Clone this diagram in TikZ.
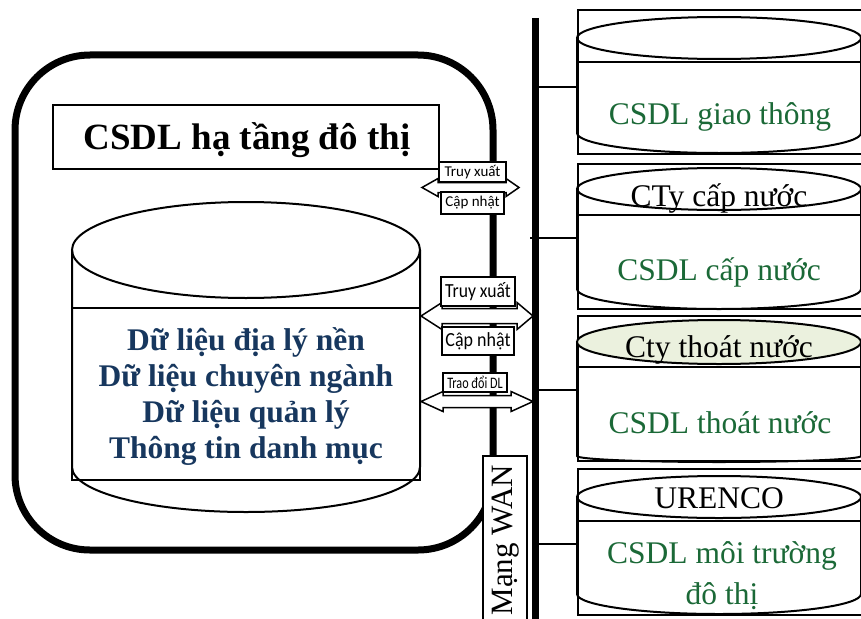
\documentclass[tikz,border=0pt]{standalone}
\usepackage{fontspec}
\usepackage{graphicx}
\setmainfont{Liberation Serif}
\newfontfamily\labelfont{Carlito}
\definecolor{navy}{RGB}{23,55,94}
\definecolor{dbgreen}{RGB}{27,105,55}
\definecolor{paleolive}{RGB}{235,241,222}
% condensed label text
\newcommand\squeeze[2]{\scalebox{#1}[1]{#2}}
% double block arrow: left tip, left base, right base, right tip, centre y, shaft half, head half
\newcommand\dblarrow[7]{%
  \draw[blockarrow] (#1,#5) -- (#2,#5-#7) -- (#2,#5-#6) -- (#3,#5-#6) -- (#3,#5-#7)
    -- (#4,#5) -- (#3,#5+#7) -- (#3,#5+#6) -- (#2,#5+#6) -- (#2,#5+#7) -- cycle;}
\begin{document}
\begin{tikzpicture}[x=1pt,y=-1pt,
  outerframe/.style={line width=7pt, rounded corners=75pt},
  dbline/.style={line width=2pt},
  frameline/.style={draw, line width=2pt, inner sep=0pt},
  tap/.style={line width=2.6pt},
  bus/.style={line width=7pt},
  blockarrow/.style={draw, line width=1.5pt, fill=white, line join=miter},
  tag/.style={draw, line width=1.5pt, fill=white, inner sep=0pt, text=black},
  smalltag/.style={tag, font=\labelfont\fontsize{15}{15}\selectfont},
  bigtag/.style={tag, font=\labelfont\fontsize{20}{20}\selectfont},
  dbtitle/.style={font=\fontsize{31.5}{36}\selectfont, text=black, inner sep=0pt},
  dbname/.style={font=\fontsize{31.5}{41}\selectfont, text=dbgreen, inner sep=0pt, align=center}]
\clip (0,0) rectangle (861,618);
\fill[white] (0,0) rectangle (861,618);

% city infrastructure block
\draw[outerframe] (15,55) rectangle (493,550);
\node[draw, line width=2pt, minimum width=386pt, minimum height=64pt, inner sep=0pt] (title) at (246,137) {};
\node[font=\fontsize{37}{40}\selectfont\bfseries, inner sep=0pt] (titletext) at (247,140) {CSDL hạ tầng đô thị};

% central database cylinder
\draw[dbline] (72,250) -- (72,467) arc[start angle=180, end angle=0, x radius=174, y radius=45] -- (420,250);
\draw[dbline] (246,250) ellipse[x radius=174, y radius=48];
\draw[dbline] (72,308) rectangle (420,480);
\node[font=\fontsize{31.5}{36}\selectfont\bfseries, text=navy, align=center, inner sep=0pt] (content) at (246,397)
  {Dữ liệu địa lý nền\\Dữ liệu chuyên ngành\\Dữ liệu quản lý\\Thông tin danh mục};

% WAN backbone
\coordinate (bustop) at (535,18);
\coordinate (busbot) at (535,625);
\draw[bus] (bustop) -- (busbot);

% partner databases
\node[frameline, anchor=north west, minimum width=292pt, minimum height=144pt] (f1) at (577,9) {};
\node[frameline, anchor=north west, minimum width=292pt, minimum height=145pt] (f2) at (577,163) {};
\node[frameline, anchor=north west, minimum width=292pt, minimum height=145pt] (f3) at (577,315) {};
\node[frameline, anchor=north west, minimum width=292pt, minimum height=146pt] (f4) at (577,468) {};

\coordinate (t1) at (535,87);
\coordinate (t2) at (530,238);
\coordinate (t3) at (535,390);
\coordinate (t4) at (535,544);
\draw[tap] (t1) -- (t1 -| f1.west);
\draw[tap] (t2) -- (t2 -| f2.west);
\draw[tap] (t3) -- (t3 -| f3.west);
\draw[tap] (t4) -- (t4 -| f4.west);

% transport
\draw[dbline] (577,38) -- (577,133) arc[start angle=180, end angle=0, x radius=142, y radius=20] -- (861,38);
\draw[dbline] (719,38) ellipse[x radius=142, y radius=21];
\draw[dbline] (577,62) -- (870,62);
\node[dbname] (n1) at (720,117) {CSDL giao thông};

% water supply
\draw[dbline] (577,189) -- (577,289) arc[start angle=180, end angle=0, x radius=142, y radius=20] -- (861,189);
\draw[dbline] (719,189) ellipse[x radius=142, y radius=21];
\draw[dbline] (577,215) -- (870,215);
\node[dbtitle] (o2) at (719,198) {CTy cấp nước};
\node[dbname] (n2) at (719,272) {CSDL cấp nước};

% drainage
\draw[dbline] (577,342) -- (577,456) arc[start angle=180, end angle=0, x radius=142, y radius=6] -- (861,342);
\draw[dbline, fill=paleolive] (719,342) ellipse[x radius=142, y radius=22];
\draw[dbline] (577,367) -- (870,367);
\node[dbtitle] (o3) at (719,350) {Cty thoát nước};
\node[dbname] (n3) at (720,423) {CSDL thoát nước};

% urban environment
\draw[dbline] (577,497) -- (577,594) arc[start angle=180, end angle=0, x radius=142, y radius=20] -- (861,497);
\draw[dbline] (719,497) ellipse[x radius=142, y radius=21];
\draw[dbline] (577,521) -- (870,521);
\node[dbtitle] (o4) at (719,498) {URENCO};
\node[dbname] (n4) at (722,576) {CSDL môi trường\\đô thị};

% exchange arrows
\dblarrow{422}{438}{506}{519}{187.5}{5}{9}
\dblarrow{421}{442}{517}{533}{316}{7.5}{13.5}
\dblarrow{421}{443}{511}{533}{401.5}{6}{10}

\node[smalltag, minimum width=67pt, minimum height=20pt] (r1) at (472.5,172) {Truy xuất};
\node[smalltag, minimum width=63pt, minimum height=22pt] (u1) at (472.5,203) {Cập nhật};
\node[bigtag, minimum width=74pt, minimum height=29pt] (r2) at (478,291.5) {\squeeze{0.88}{Truy xuất}};
\node[bigtag, minimum width=72pt, minimum height=28pt] (u2) at (478,341) {\squeeze{0.9}{Cập nhật}};
\node[tag, font=\labelfont\fontsize{16}{16}\selectfont, minimum width=64pt, minimum height=19pt] (x3) at (475,382.5) {\squeeze{0.76}{Trao đổi DL}};

% network label
\node[draw, fill=white, line width=1.5pt, minimum width=44pt, minimum height=175pt, anchor=north, inner sep=0pt] (wan) at (505,455) {};
\node[rotate=90, font=\fontsize{31}{34}\selectfont, inner sep=0pt] (wantext) at (506,540) {Mạng WAN};
\end{tikzpicture}
\end{document}
